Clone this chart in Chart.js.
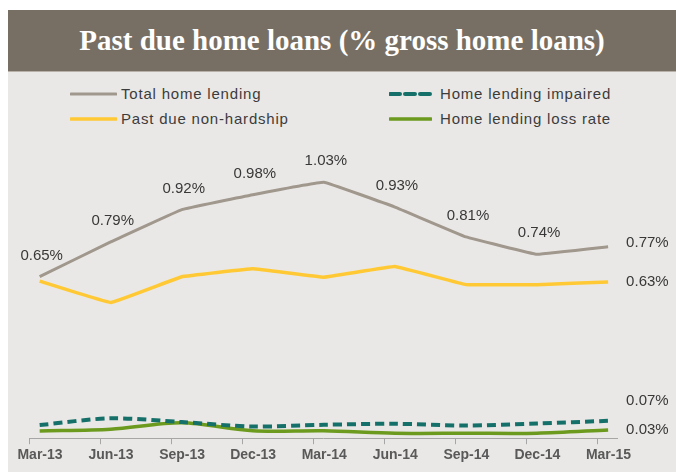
<!DOCTYPE html>
<html>
<head>
<meta charset="utf-8">
<script src="https://cdn.jsdelivr.net/npm/chart.js@4/dist/chart.umd.min.js"></script>
<style>
  html, body { margin: 0; padding: 0; }
  body { background: #fff; width: 676px; height: 475px; overflow: hidden; position: relative; }
  #titleBar {
    position: absolute; left: 8px; top: 10px; width: 668px; height: 61px;
    background: #786f64; color: #fff; text-align: center;
    font: bold 29px "Liberation Serif", "Times New Roman", serif;
    line-height: 61px;
  }
  #panel {
    position: absolute; left: 8px; top: 71px; width: 668px; height: 401px;
    background: #eae8e6; border-top: 1px solid #b8b1a9; box-sizing: border-box;
  }
  #legend div.item { position: absolute; height: 20px; }
  #legend svg { position: absolute; left: 0; top: 5px; }
  #legend span.text {
    position: absolute; top: 0; white-space: nowrap; color: #3c3c3c;
    font: 15px "Liberation Sans", Arial, sans-serif; letter-spacing: 0.8px;
    line-height: 18px;
  }
  #chart { position: absolute; left: 0; top: 0; }
</style>
</head>
<body>
<div id="titleBar">Past due home loans (% gross home loans)</div>
<div id="panel"></div>
<div id="legend"></div>
<canvas id="chart" width="676" height="475"></canvas>
<script>
// ─── DATA ──────────────────────────────────────────────
const categories = ['Mar-13', 'Jun-13', 'Sep-13', 'Dec-13', 'Mar-14', 'Jun-14', 'Sep-14', 'Dec-14', 'Mar-15'];
const totalHomeLending = [0.65, 0.79, 0.92, 0.98, 1.03, 0.93, 0.81, 0.74, 0.77];
const pastDueNonHardship = [0.632, 0.546, 0.650, 0.682, 0.648, 0.691, 0.618, 0.618, 0.629];
const lendingImpaired = [0.053, 0.080, 0.065, 0.047, 0.054, 0.058, 0.051, 0.059, 0.070];
const lendingLossRate = [0.029, 0.036, 0.062, 0.030, 0.030, 0.020, 0.020, 0.020, 0.033];

const totalLabels = ['0.65%', '0.79%', '0.92%', '0.98%', '1.03%', '0.93%', '0.81%', '0.74%', '0.77%'];
const endLabels = ['0.77%', '0.63%', '0.07%', '0.03%'];

// tick marks sit a little left of the points (Excel date axis look)
const tickShift = 0.15;

const toPoints = arr => arr.map((v, i) => ({ x: i, y: v }));

const seriesDefs = [
  { label: 'Total home lending', data: totalHomeLending, color: '#a0978d', width: 3, dash: [], tension: 0.05 },
  { label: 'Past due non-hardship', data: pastDueNonHardship, color: '#ffc935', width: 3.5, dash: [], tension: 0.05 },
  { label: 'Home lending impaired', data: lendingImpaired, color: '#16706a', width: 4, dash: [9, 5], tension: 0.3 },
  { label: 'Home lending loss rate', data: lendingLossRate, color: '#6b9a1e', width: 3.5, dash: [], tension: 0.3 }
];

// ─── LEGEND (html) ─────────────────────────────────────
const legendPos = [
  { x: 70, y: 85, len: 47, tx: 51 },
  { x: 389, y: 85, len: 43, tx: 51 },
  { x: 70, y: 110, len: 47, tx: 51 },
  { x: 389, y: 110, len: 43, tx: 51 }
];
// order in the picture: total, impaired / past due, loss rate
const legendOrder = [0, 2, 1, 3];
const legendEl = document.getElementById('legend');
legendOrder.forEach((si, k) => {
  const s = seriesDefs[si];
  const p = legendPos[k];
  const item = document.createElement('div');
  item.className = 'item';
  item.style.left = p.x + 'px';
  item.style.top = p.y + 'px';
  const dash = s.dash.length ? `stroke-dasharray="10,5"` : '';
  item.innerHTML =
    `<svg width="${p.len}" height="8"><line x1="1" y1="4" x2="${p.len - 1}" y2="4" stroke="${s.color}" ` +
    `stroke-width="${s.width}" stroke-linecap="round" ${dash}/></svg>` +
    `<span class="text" style="left:${p.tx}px">${s.label}</span>`;
  legendEl.appendChild(item);
});

// ─── DATA LABELS PLUGIN ────────────────────────────────
const labelPlugin = {
  id: 'pointLabels',
  afterDatasetsDraw(chart) {
    const ctx = chart.ctx;
    ctx.save();
    ctx.font = '15px "Liberation Sans", Arial, sans-serif';
    ctx.fillStyle = '#383838';
    ctx.textBaseline = 'middle';

    // labels above the total line
    const meta0 = chart.getDatasetMeta(0);
    ctx.textAlign = 'center';
    meta0.data.forEach((pt, i) => {
      if (i === meta0.data.length - 1) return;
      ctx.fillText(totalLabels[i], pt.x + 2, pt.y - 21);
    });

    // labels to the right of the last point
    const endDy = [-4, 0, -20, 0];
    ctx.textAlign = 'left';
    chart.data.datasets.forEach((ds, di) => {
      const meta = chart.getDatasetMeta(di);
      const last = meta.data[meta.data.length - 1];
      ctx.fillText(endLabels[di], last.x + 18, last.y + endDy[di]);
    });
    ctx.restore();
  }
};

// ─── CHART ─────────────────────────────────────────────
new Chart(document.getElementById('chart'), {
  type: 'line',
  data: {
    datasets: seriesDefs.map(s => ({
      label: s.label,
      data: toPoints(s.data),
      borderColor: s.color,
      borderWidth: s.width,
      borderDash: s.dash,
      tension: s.tension,
      pointRadius: 0,
      fill: false
    }))
  },
  options: {
    responsive: false,
    animation: false,
    events: [],
    layout: { padding: { left: 29, right: 59, top: 140, bottom: 8 } },
    plugins: { legend: { display: false }, tooltip: { enabled: false } },
    scales: {
      x: {
        type: 'linear',
        min: -tickShift,
        max: 8.125,
        afterBuildTicks: scale => {
          scale.ticks = categories.map((c, i) => ({ value: i - tickShift }));
        },
        border: { display: true, color: '#a6a6a6', width: 1 },
        grid: { drawOnChartArea: false, drawTicks: true, tickLength: 6, color: '#a6a6a6' },
        ticks: {
          autoSkip: false,
          maxRotation: 0,
          padding: 3,
          labelOffset: 11,
          color: '#595959',
          font: { family: '"Liberation Sans", Arial, sans-serif', size: 14, weight: 'bold' },
          callback: value => categories[Math.round(value + tickShift)]
        }
      },
      y: {
        display: false,
        min: 0,
        max: 1.2
      }
    }
  },
  plugins: [labelPlugin]
});
</script>
</body>
</html>
